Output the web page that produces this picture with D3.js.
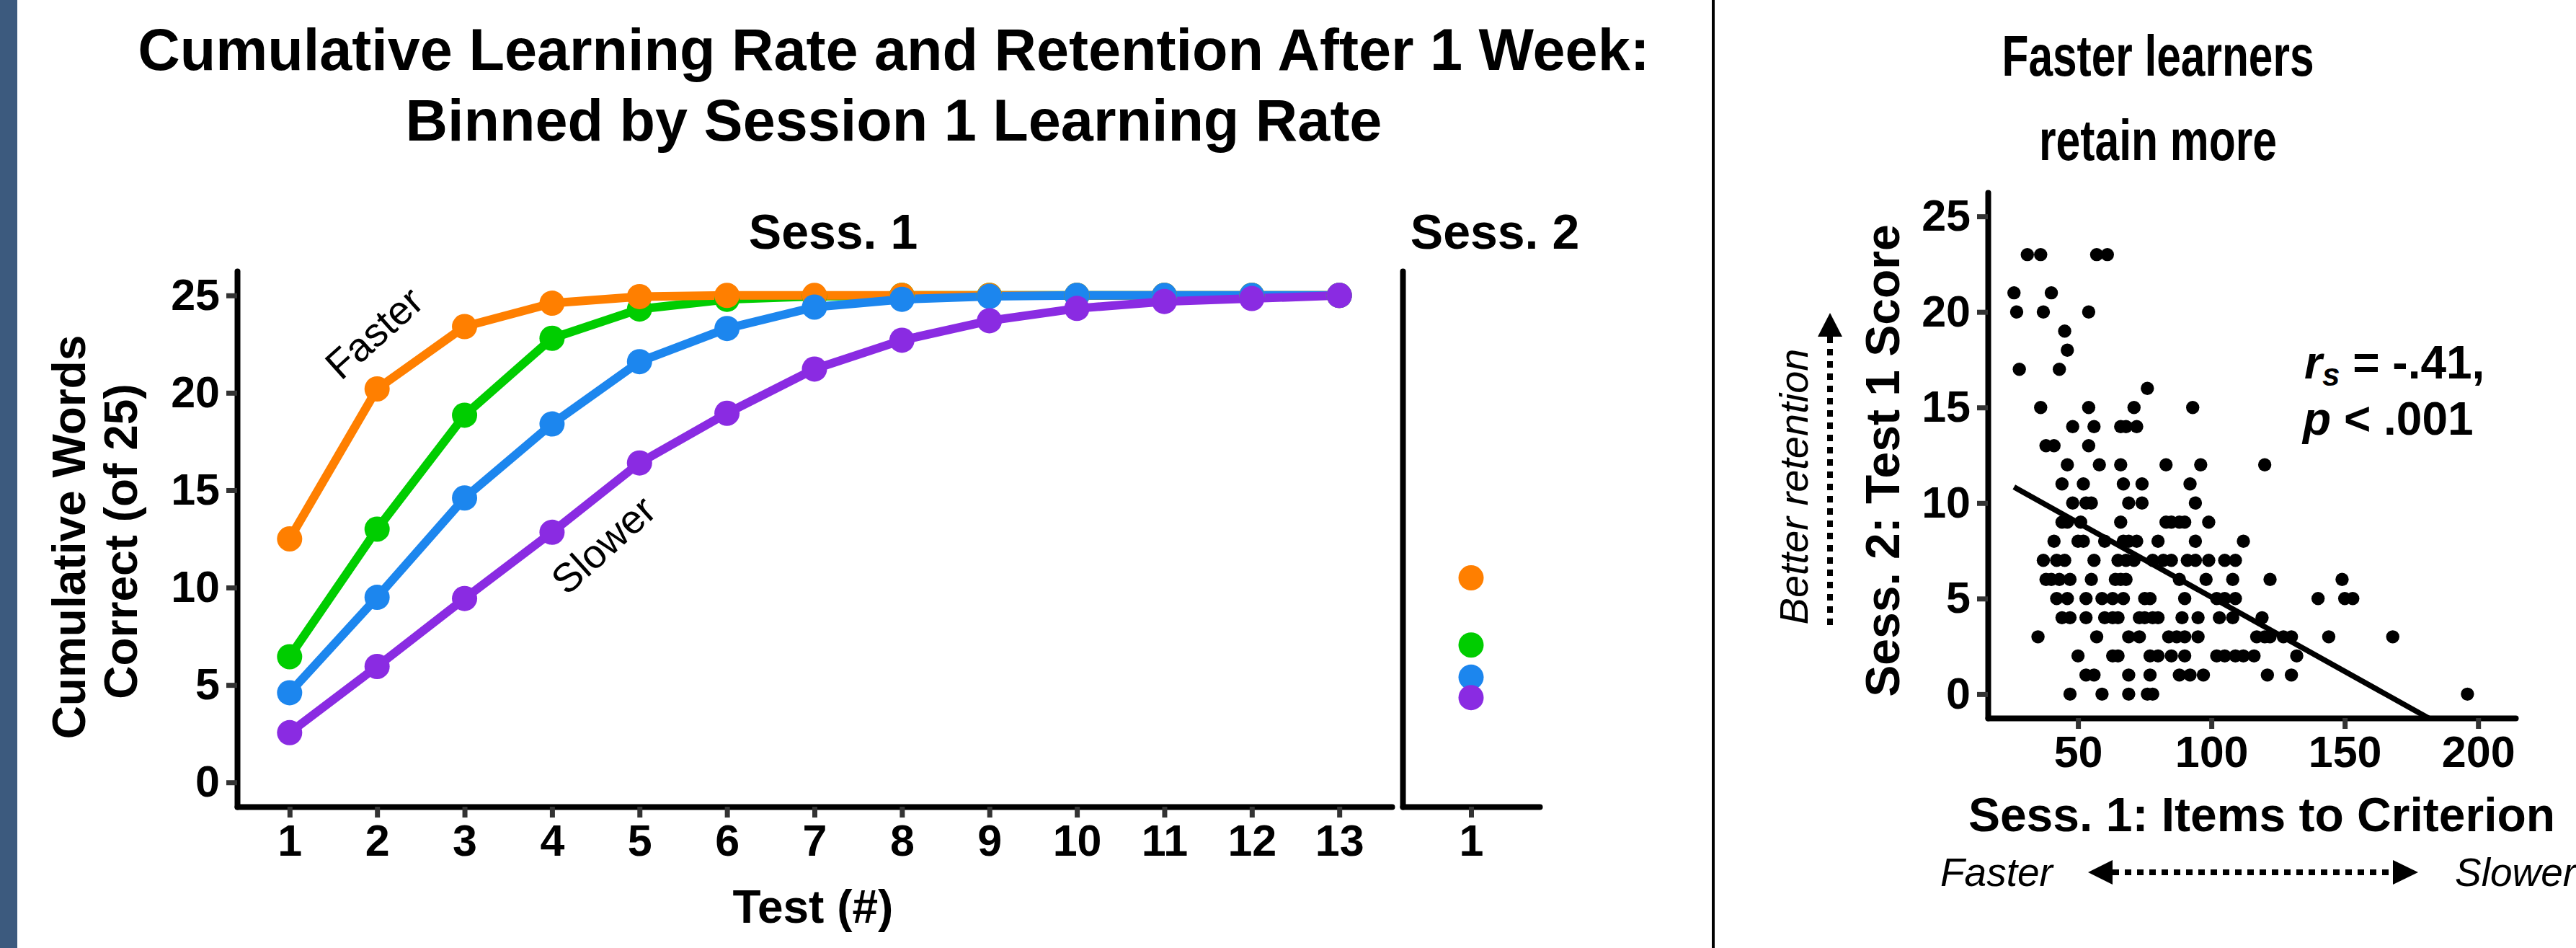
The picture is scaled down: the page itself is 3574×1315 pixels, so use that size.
<!DOCTYPE html>
<html>
<head>
<meta charset="utf-8">
<script src="https://cdn.jsdelivr.net/npm/d3@7"></script>
<style>
  html, body { margin: 0; padding: 0; background: #fff; overflow: hidden; }
</style>
</head>
<body>
<svg id="chart" width="3574" height="1315"></svg>
<script>
// ---------- Data ----------
// Session 1 test numbers
const tests = [1, 2, 3, 4, 5, 6, 7, 8, 9, 10, 11, 12, 13];
// Cumulative words correct (of 25), binned by session 1 learning rate
const fastestBin = [12.5, 20.2, 23.4, 24.6, 24.94, 25, 25, 25, 25, 25, 25, 25, 25];
const fastBin    = [6.45, 13.0, 18.85, 22.8, 24.3, 24.8, 24.95, 25, 25, 25, 25, 25, 25];
const slowBin    = [4.6, 9.5, 14.6, 18.4, 21.6, 23.3, 24.4, 24.8, 24.95, 25, 25, 25, 25];
const slowestBin = [2.55, 5.95, 9.44, 12.84, 16.4, 18.95, 21.22, 22.7, 23.7, 24.33, 24.69, 24.84, 25];
// Session 2, test 1 score per bin (fastest, fast, slow, slowest)
const sess2Scores = [10.5, 7.05, 5.4, 4.35];
const binColors = ["#FF7F00", "#00CD00", "#1C86EE", "#8A2BE2"];
// drawing order of the bins (index into the arrays above)
const drawOrder = [1, 0, 2, 3];

const yTicks = [0, 5, 10, 15, 20, 25];
const sess2Ticks = [1];

// Scatter: session 2 test 1 score and the items-to-criterion values at that score
const retentionScores = [23, 21, 20, 19, 18, 17, 16, 15, 14, 13, 12, 11, 10, 9, 8, 7, 6, 5, 4, 3, 2, 1, 0];
const itemsAtScore = [
  [31, 36, 57, 61],
  [26, 40],
  [27, 37, 54],
  [45],
  [46],
  [28, 43],
  [76],
  [36, 54, 71, 93],
  [48, 56, 66, 68, 72],
  [38, 41, 54],
  [46, 58, 66, 83, 96, 120],
  [44, 52, 67, 74, 92],
  [48, 53, 55, 69, 74, 94],
  [44, 46, 51, 66, 83, 85, 88, 90, 99],
  [41, 50, 52, 60, 67, 69, 72, 80, 94, 112],
  [37, 42, 45, 56, 65, 68, 71, 78, 82, 85, 91, 94, 99, 105, 109],
  [38, 40, 43, 47, 55, 64, 66, 68, 88, 98, 108, 122, 149],
  [42, 46, 53, 59, 63, 67, 75, 77, 90, 102, 105, 109, 140, 150, 153],
  [44, 47, 53, 60, 63, 65, 73, 75, 78, 80, 89, 95, 103, 108, 119],
  [35, 57, 69, 73, 84, 87, 90, 95, 117, 120, 122, 127, 130, 144, 168],
  [50, 63, 65, 77, 80, 85, 90, 102, 105, 109, 112, 116, 132],
  [53, 56, 69, 77, 88, 92, 97, 121, 130],
  [47, 59, 69, 76, 78, 196]
];
const scatterXTicks = [50, 100, 150, 200];
// Linear fit of score on items to criterion
const fitIntercept = 12.86;
const fitSlope = -0.0778;

// ---------- Setup ----------
const FONT = "'Liberation Sans', Arial, Helvetica, sans-serif";
const W = 3574, H = 1315;
const svg = d3.select("#chart");

svg.append("rect").attr("width", W).attr("height", H).attr("fill", "#fff");
svg.append("rect").attr("x", 0).attr("y", 0).attr("width", 24).attr("height", H).attr("fill", "#3c5a7e");
svg.append("line").attr("x1", 2377).attr("x2", 2377).attr("y1", 0).attr("y2", H)
  .attr("stroke", "#000").attr("stroke-width", 4);

function styleAxis(g, labelSize) {
  g.select(".domain").attr("stroke", "#000").attr("stroke-width", 8).attr("stroke-linecap", "round");
  g.selectAll(".tick line").attr("stroke", "#333").attr("stroke-width", 7);
  g.selectAll(".tick text").attr("fill", "#000").attr("font-family", FONT)
    .attr("font-weight", 700).attr("font-size", labelSize);
}

function addText(x, y, str, opts = {}) {
  const t = svg.append("text")
    .attr("x", x).attr("y", y)
    .attr("font-family", FONT)
    .attr("font-size", opts.size || 60)
    .attr("font-weight", opts.weight || 700)
    .attr("font-style", opts.style || "normal")
    .attr("text-anchor", opts.anchor || "middle")
    .attr("fill", "#000")
    .text(str);
  if (opts.rotate !== undefined) t.attr("transform", `rotate(${opts.rotate},${x},${y})`);
  if (opts.length !== undefined) t.attr("textLength", opts.length).attr("lengthAdjust", "spacingAndGlyphs");
  return t;
}

// ---------- Left: cumulative learning curves ----------
const yL = d3.scaleLinear().domain([-1.25, 26.25]).range([1119, 376]);
const xL = d3.scaleLinear().domain([0.4, 13.6]).range([329, 1931]);
const xS2 = d3.scaleLinear().domain([0.4, 1.6]).range([1946, 2136]);

// axes - session 1
svg.append("g").attr("transform", `translate(0,${yL.range()[0]})`)
  .call(d3.axisBottom(xL).tickValues(tests).tickFormat(d3.format("d")).tickSize(15).tickSizeOuter(0).tickPadding(10))
  .call(g => styleAxis(g, 61));
svg.append("g").attr("transform", `translate(${xL.range()[0]},0)`)
  .call(d3.axisLeft(yL).tickValues(yTicks).tickSize(15).tickSizeOuter(0).tickPadding(9))
  .call(g => styleAxis(g, 61));

// axes - session 2
svg.append("g").attr("transform", `translate(0,${yL.range()[0]})`)
  .call(d3.axisBottom(xS2).tickValues(sess2Ticks).tickFormat(d3.format("d")).tickSize(15).tickSizeOuter(0).tickPadding(10))
  .call(g => styleAxis(g, 61));
svg.append("g").attr("transform", `translate(${xS2.range()[0]},0)`)
  .call(d3.axisLeft(yL).tickValues([]).tickSizeOuter(0))
  .call(g => styleAxis(g, 61));

const bins = [fastestBin, fastBin, slowBin, slowestBin];
const line = d3.line().x((d, i) => xL(tests[i])).y(d => yL(d));

const curves = svg.append("g");
drawOrder.forEach(b => {
  curves.append("path").datum(bins[b])
    .attr("d", line)
    .attr("fill", "none")
    .attr("stroke", binColors[b])
    .attr("stroke-width", 12)
    .attr("stroke-linejoin", "round");
});
drawOrder.forEach(b => {
  curves.append("g").selectAll("circle").data(bins[b]).join("circle")
    .attr("cx", (d, i) => xL(tests[i]))
    .attr("cy", d => yL(d))
    .attr("r", 17.5)
    .attr("fill", binColors[b]);
});
// session 2 retention points
drawOrder.forEach(b => {
  curves.append("circle")
    .attr("cx", xS2(sess2Ticks[0]))
    .attr("cy", yL(sess2Scores[b]))
    .attr("r", 17.5)
    .attr("fill", binColors[b]);
});

// left panel text
addText(1240, 97, "Cumulative Learning Rate and Retention After 1 Week:", { size: 81 });
addText(1240, 195, "Binned by Session 1 Learning Rate", { size: 81 });
addText(1156, 345, "Sess. 1", { size: 68 });
addText(2074, 345, "Sess. 2", { size: 68 });
addText(1128, 1280, "Test (#)", { size: 64 });
addText(118, 745, "Cumulative Words", { size: 64, rotate: -90 });
addText(190, 751, "Correct (of 25)", { size: 64, rotate: -90 });
addText(532, 476, "Faster", { size: 56, weight: 400, rotate: -42 });
addText(850, 770, "Slower", { size: 56, weight: 400, rotate: -42 });

// ---------- Right: scatter of retention vs items to criterion ----------
const xS = d3.scaleLinear().domain([16.2, 214]).range([2758, 3490]);
const yS = d3.scaleLinear().domain([-1.25, 26.25]).range([996, 267]);

svg.append("g").attr("transform", `translate(0,${yS.range()[0]})`)
  .call(d3.axisBottom(xS).tickValues(scatterXTicks).tickSize(15).tickSizeOuter(0).tickPadding(10))
  .call(g => styleAxis(g, 61));
svg.append("g").attr("transform", `translate(${xS.range()[0]},0)`)
  .call(d3.axisLeft(yS).tickValues(yTicks).tickSize(15).tickSizeOuter(0).tickPadding(9))
  .call(g => styleAxis(g, 61));

const scatterPts = [];
retentionScores.forEach((s, i) => itemsAtScore[i].forEach(x => scatterPts.push([x, s])));

svg.append("g").selectAll("circle").data(scatterPts).join("circle")
  .attr("cx", d => xS(d[0]))
  .attr("cy", d => yS(d[1]))
  .attr("r", 9.2)
  .attr("fill", "#000");

svg.append("clipPath").attr("id", "scatterClip")
  .append("rect")
  .attr("x", xS.range()[0]).attr("y", yS.range()[1])
  .attr("width", xS.range()[1] - xS.range()[0])
  .attr("height", yS.range()[0] - yS.range()[1]);

const xExtent = d3.extent(scatterPts, d => d[0]);
svg.append("line")
  .attr("clip-path", "url(#scatterClip)")
  .attr("x1", xS(xExtent[0])).attr("y1", yS(fitIntercept + fitSlope * xExtent[0]))
  .attr("x2", xS(xExtent[1])).attr("y2", yS(fitIntercept + fitSlope * xExtent[1]))
  .attr("stroke", "#000").attr("stroke-width", 7.5);

// right panel text (condensed title)
addText(2994, 105, "Faster learners", { size: 80, length: 433 });
addText(2994, 222, "retain more", { size: 80, length: 330 });
addText(2635, 639, "Sess. 2: Test 1 Score", { size: 66, rotate: -90 });
addText(3138, 1153, "Sess. 1: Items to Criterion", { size: 66 });

const stat1 = svg.append("text").attr("x", 3197).attr("y", 525)
  .attr("font-family", FONT).attr("font-size", 64).attr("font-weight", 700).attr("fill", "#000");
stat1.append("tspan").attr("font-style", "italic").text("r");
stat1.append("tspan").attr("font-style", "italic").attr("font-size", 44).attr("dy", 10).text("s");
stat1.append("tspan").attr("dy", -10).text(" = -.41,");
const stat2 = svg.append("text").attr("x", 3195).attr("y", 603)
  .attr("font-family", FONT).attr("font-size", 64).attr("font-weight", 700).attr("fill", "#000");
stat2.append("tspan").attr("font-style", "italic").text("p");
stat2.append("tspan").text(" < .001");

// direction cues
addText(2508, 675, "Better retention", { size: 56, weight: 400, style: "italic", rotate: -90 });
addText(2692, 1229, "Faster", { size: 55, weight: 400, style: "italic", anchor: "start" });
addText(3406, 1229, "Slower", { size: 55, weight: 400, style: "italic", anchor: "start" });

const cue = svg.append("g").attr("fill", "#000");
cue.append("line").attr("x1", 2539).attr("x2", 2539).attr("y1", 867).attr("y2", 467)
  .attr("stroke", "#000").attr("stroke-width", 8).attr("stroke-dasharray", "9 8");
cue.append("path").attr("d", "M2522,467 L2556,467 L2539,434 Z");
cue.append("line").attr("x1", 2931).attr("x2", 3320).attr("y1", 1210).attr("y2", 1210)
  .attr("stroke", "#000").attr("stroke-width", 8).attr("stroke-dasharray", "9 8");
cue.append("path").attr("d", "M2931,1193 L2931,1227 L2897,1210 Z");
cue.append("path").attr("d", "M3320,1193 L3320,1227 L3355,1210 Z");
</script>
</body>
</html>
